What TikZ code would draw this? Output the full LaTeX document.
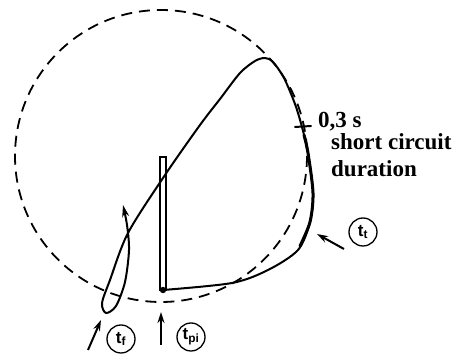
\documentclass[tikz,border=0pt]{standalone}
\usepackage{fontspec}
\setmainfont{Liberation Serif}
\setsansfont{Liberation Sans}
\usetikzlibrary{arrows.meta}
\tikzset{
  locus/.style={line width=2pt, line join=round, line cap=round},
  limit/.style={dash pattern=on 11pt off 7pt, line width=1.8pt},
  tlabel/.style={draw, circle, line width=1.3pt, minimum size=28pt, inner sep=0pt, font=\sffamily\bfseries\fontsize{17}{17}\selectfont},
  pointer/.style={-{Stealth[length=11pt, width=7pt]}, line width=2pt},
  note/.style={anchor=base west, inner sep=0pt, align=left, font=\bfseries\fontsize{23}{27}\selectfont},
}

\begin{document}
\begin{tikzpicture}[x=1pt, y=-1pt]
  \useasboundingbox (0,0) rectangle (459,358);
  % stability circle
  \draw[limit] (161,156) circle[radius=146];
  % locus of the impedance
  \draw[locus, -{Stealth[length=12pt, width=7pt]}] plot[smooth, tension=0.5] coordinates {
    (163,290) (232,283) (268,270) (298,250) (310,222) (313,193) (308,153) (302,127)
    (295,104) (284,78) (273,62) (265,58) (255,61) (240,73) (220,99) (200,125)
    (165,175) (128,233) (110,280) (102,303) (106,313) (116,306) (125,282)
    (129,250) (127,225) (123,205)};
  \draw[locus, line width=3pt] plot[smooth, tension=0.5] coordinates {
    (304,135) (308,153) (313,193) (310,222) (300,246)};
  % end of short circuit
  \coordinate (tick-l) at (295,127);
  \coordinate (tick-r) at (311,126);
  \draw[locus] (tick-l) -- (tick-r);
  \node[note] (time) at (318,128) {0,3 s};
  \node[note] (scd) at (331,177) {short circuit\\duration};
  % pole slip bar
  \draw[line width=1.1pt] (160,157) rectangle (166,290);
  \fill (163,290) circle[radius=3.2];
  % instants
  \node[tlabel] (tf) at (121,339) {t\textsubscript{f}};
  \node[tlabel] (tpi) at (191,337) {t\textsubscript{pi}};
  \node[tlabel] (tt) at (363,232) {t\textsubscript{t}};
  \coordinate (tf-tail) at (88,350);
  \coordinate (tf-tip) at (101,320);
  \coordinate (tpi-tail) at (161,345);
  \coordinate (tpi-tip) at (161,312);
  \coordinate (tt-tail) at (344,249);
  \coordinate (tt-tip) at (317,234);
  \foreach \a/\b in {tf-tail/tf-tip, tpi-tail/tpi-tip, tt-tail/tt-tip} \draw[pointer] (\a) -- (\b);
\end{tikzpicture}
\end{document}
